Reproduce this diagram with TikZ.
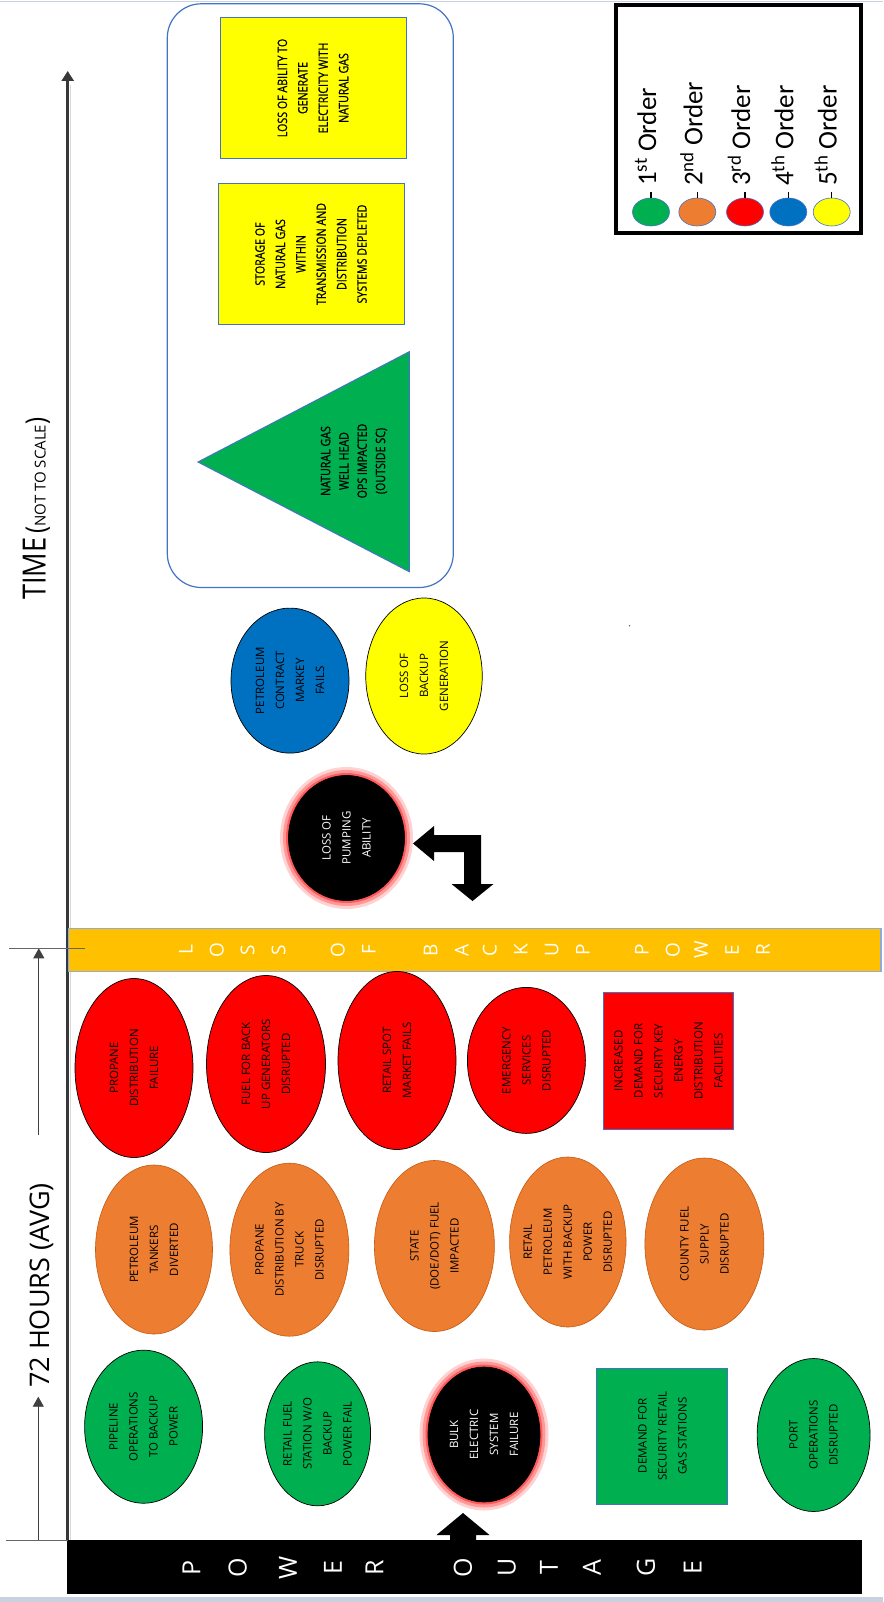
\documentclass[tikz,border=0pt]{standalone}
\usepackage{fontspec}
\setmainfont{Open Sans}
\newfontfamily\condfont[FakeStretch=0.85]{Open Sans}
\newfontfamily\condbold[FakeStretch=0.82,FakeBold=0.8]{Open Sans}
\newfontfamily\legfont{Carlito}
\usetikzlibrary{shapes.geometric,arrows.meta}
\definecolor{cgreen}{HTML}{00B050}
\definecolor{corange}{HTML}{ED7D31}
\definecolor{corbd}{HTML}{C55A11}
\definecolor{cred}{HTML}{FF0000}
\definecolor{cblue}{HTML}{0070C0}
\definecolor{cyellow}{HTML}{FFFF00}
\definecolor{cbar}{HTML}{FFC000}
\definecolor{cedge}{HTML}{4472C4}
\definecolor{cbaredge}{HTML}{8FAADC}
\definecolor{cnavy}{HTML}{1F3864}
\definecolor{cframe}{HTML}{C9D1E0}
\newcommand\blob[8]{\node[#1,minimum width=#4pt,minimum height=#5pt] (#6) at (#2,#3) {};\node[#8] (#6-t) at (#6.center) {#7};}
\begin{document}
\begin{tikzpicture}[x=1pt,y=-1pt,
  oval/.style={ellipse,draw=black,line width=0.7pt,inner sep=0pt,outer sep=0pt},
  ovalor/.style={ellipse,draw=corbd,line width=0.6pt,fill=corange,inner sep=0pt,outer sep=0pt},
  rectbox/.style={rectangle,draw=cedge,line width=1pt,inner sep=0pt,outer sep=0pt},
  glow/.style={preaction={draw=red!18,line width=17pt},preaction={draw=red!40,line width=11pt},preaction={draw=red!65,line width=5pt}},
  txt/.style={rotate=90,align=center,inner sep=0pt,text=black,font=\fontsize{11.5}{20}\selectfont},
  wtxt/.style={txt,text=white},
  ctxt/.style={rotate=90,align=center,inner sep=0pt,text=black,font=\condbold\fontsize{13}{20.4}\selectfont},
  tritxt/.style={ctxt,font=\condbold\fontsize{13}{18.3}\selectfont},
  barletter/.style={rotate=90,inner sep=0pt,text=white,font=\fontsize{25}{25}\selectfont},
  bpletter/.style={rotate=90,inner sep=0pt,text=white,font=\fontsize{19}{19}\selectfont},
  legtxt/.style={rotate=90,anchor=base west,inner sep=0pt,font=\legfont\fontsize{27}{27}\selectfont},
  legdot/.style={ellipse,draw=cedge,line width=0.6pt,minimum width=37pt,minimum height=28pt,inner sep=0pt},
  thinarrow/.style={line width=0.9pt,black!75,-{Triangle[width=11pt,length=10pt]}}
]
\useasboundingbox (0,0) rectangle (883,1602);
\fill[white] (0,0) rectangle (883,1602);
% frame artifacts
\draw[cframe,line width=1.5pt] (0,1.5) -- (883,1.5);
\fill[cframe] (0,1597) rectangle (883,1602);

% main time axis
\coordinate (ax0) at (67.7,1540);
\coordinate (ax1) at (67.7,71);
\draw[black!15,line width=1.5pt] (70.5,1540) -- (70.5,85);
\draw[line width=3pt,black!78,-{Triangle[width=12pt,length=10pt]}] (ax0) -- (ax1);

% labels on axis
\node[rotate=90,anchor=base west,inner sep=0pt] (timelbl) at (45.5,600)
  {{\condfont\fontsize{32}{32}\selectfont TIME\hspace{4pt}}{\condfont\fontsize{28}{28}\selectfont(}{\fontsize{15}{15}\selectfont NOT TO SCALE}{\condfont\fontsize{28}{28}\selectfont)}};
\node[rotate=90,anchor=base west,inner sep=0pt,font=\fontsize{27}{27}\selectfont] (hrs) at (49,1388) {72 HOURS (AVG)};

% power outage bar
\node[fill=black,minimum width=795pt,minimum height=54pt,inner sep=0pt] (pobar) at (464,1567) {};
\foreach \x/\l [count=\i] in {191.4/P,237.6/O,288/W,333/E,374.4/R,463/O,506.8/U,549/T,592/A,646/G,692.6/E}
  \node[barletter] (po\i) at (\x,1567.5) {\l};

% loss of backup power bar
\node[fill=cbar,draw=cbaredge,line width=1.2pt,minimum width=813pt,minimum height=43.4pt,inner sep=0pt] (bpbar) at (474.5,950) {};
\draw[cnavy,line width=1.5pt] (bpbar.north west) -- (bpbar.south west);
\foreach \x/\l [count=\i] in {185.8/L,216.8/O,247.7/S,278.7/S,337.8/O,368.8/F,430.7/B,461.7/A,489.9/C,520.8/K,551.8/U,582.8/P,641.9/P,672.9/O,701/W,732/E,763/R}
  \node[bpletter] (bp\i) at (\x,950) {\l};

% 72 hours thin arrows and ticks
\coordinate (h0) at (38.3,1540.7);
\coordinate (h1) at (38.3,1396.7);
\coordinate (h2) at (38.8,1135);
\coordinate (h3) at (38.8,948.3);
\coordinate (t0a) at (5.6,1540.7);
\coordinate (t0b) at (67.7,1540.7);
\coordinate (t1a) at (9.3,948.3);
\coordinate (t1b) at (85,948.3);
\draw[thinarrow] (h0) -- (h1);
\draw[thinarrow] (h2) -- (h3);
\draw[black!60,line width=0.9pt] (t0a) -- (t0b);
\draw[black!60,line width=0.9pt] (t1a) -- (t1b);

% first order
\blob{oval,fill=cgreen}{143.6}{1426.7}{118}{153}{g1}{PIPELINE\\OPERATIONS\\TO BACKUP\\POWER}{txt}
\blob{oval,fill=cgreen}{317.6}{1433.8}{106}{144}{g2}{RETAIL FUEL\\STATION W/O\\BACKUP\\POWER FAIL}{txt}
\blob{oval,fill=black,draw=black,glow}{484}{1434.5}{112}{135}{g3}{BULK\\ELECTRIC\\SYSTEM\\FAILURE}{wtxt}
\blob{rectbox,fill=cgreen}{662.4}{1436}{131}{136}{g4}{DEMAND FOR\\SECURITY RETAIL\\GAS STATIONS}{txt}
\blob{oval,fill=cgreen}{813.6}{1435}{113}{153}{g5}{PORT\\OPERATIONS\\DISRUPTED}{txt}

% second order
\blob{ovalor}{154}{1249.5}{117}{169}{o1}{PETROLEUM\\TANKERS\\DIVERTED}{txt}
\blob{ovalor}{289.4}{1249.7}{119}{173}{o2}{PROPANE\\DISTRIBUTION BY\\TRUCK\\DISRUPTED}{txt}
\blob{ovalor}{434.4}{1246}{120}{171}{o3}{STATE\\(DOE/DOT) FUEL\\IMPACTED}{txt}
\blob{ovalor}{567.8}{1242}{116.5}{170}{o4}{RETAIL\\PETROLEUM\\WITH BACKUP\\POWER\\DISRUPTED}{txt}
\blob{ovalor}{704.4}{1244}{119}{172}{o5}{COUNTY FUEL\\SUPPLY\\DISRUPTED}{txt}

% third order
\blob{oval,fill=cred}{134}{1068}{118}{179}{r1}{PROPANE\\DISTRIBUTION\\FAILURE}{txt}
\blob{oval,fill=cred}{266}{1064}{119}{177}{r2}{FUEL FOR BACK\\UP GENERATORS\\DISRUPTED}{txt}
\blob{oval,fill=cred}{397}{1060.5}{118}{178}{r3}{RETAIL SPOT\\MARKET FAILS}{txt}
\blob{oval,fill=cred}{526.4}{1060.4}{118}{146}{r4}{EMERGENCY\\SERVICES\\DISRUPTED}{txt}
\blob{rectbox,fill=cred}{668.6}{1061}{130}{137}{r5}{INCREASED\\DEMAND FOR\\SECURITY KEY\\ENERGY\\DISTRIBUTION\\FACILITIES}{txt}

% after backup power loss
\blob{oval,fill=black,draw=black,glow}{346.5}{838}{116}{125}{k1}{LOSS OF\\PUMPING\\ABILITY}{wtxt}
\blob{oval,fill=cblue}{290}{680.6}{118}{145}{b1}{PETROLEUM\\CONTRACT\\MARKEY\\FAILS}{txt}
\blob{oval,fill=cyellow}{424}{676}{116.5}{156}{y1}{LOSS OF\\BACKUP\\GENERATION}{txt}
\fill[black!60] (629.5,625.7) circle (0.8pt);

% block arrows
\fill[black] (463,1513) -- (489.5,1535) -- (476,1535) -- (476,1541) -- (450,1541) -- (450,1535) -- (436.5,1535) -- cycle;
\fill[black] (413,843.5) -- (434,826) -- (434,835) -- (481,835) -- (481,884) -- (493.5,884) -- (472.5,901) -- (451.5,884) -- (464,884) -- (464,852) -- (434,852) -- (434,861) -- cycle;

% natural gas box
\node[draw=cedge,line width=1.2pt,rounded corners=34pt,minimum width=286pt,minimum height=583.7pt,inner sep=0pt] (ngbox) at (310.3,295.65) {};
\blob{rectbox,fill=cyellow}{313}{88}{186}{141.6}{n1}{LOSS OF ABILITY TO\\GENERATE\\ELECTRICITY WITH\\NATURAL GAS}{ctxt}
\blob{rectbox,fill=cyellow}{311}{254}{186}{141}{n2}{STORAGE OF\\NATURAL GAS\\WITHIN\\TRANSMISSION AND\\DISTRIBUTION\\SYSTEMS DEPLETED}{ctxt}
\coordinate (triA) at (409.3,351.7);
\coordinate (triB) at (409.3,571.7);
\coordinate (triC) at (198,462);
\fill[cgreen] (triA) -- (triB) -- (triC) -- cycle;
\draw[cedge,line width=1pt] (triA) -- (triB) -- (triC) -- cycle;
\node[tritxt] (n3-t) at (354,461) {NATURAL GAS\\WELL HEAD\\OPS IMPACTED\\(OUTSIDE SC)};

% legend
\node[draw=black,line width=4pt,minimum width=245.3pt,minimum height=227.7pt,inner sep=0pt] (leg) at (738.7,119.2) {};
\foreach \cx/\col/\ord [count=\i] in {651/cgreen/st,697.3/corange/nd,745/cred/rd,788.3/cblue/th,831.7/cyellow/th}{
  \node[legdot,fill=\col] (ld\i) at (\cx,212) {};
  \coordinate (lk\i) at (\cx,192);
  \draw[black,line width=1.2pt] (ld\i.north) -- (lk\i);
  \node[legtxt] (lt\i) at (\cx+5,186) {\i\textsuperscript{\ord} Order};
}
\end{tikzpicture}
\end{document}
